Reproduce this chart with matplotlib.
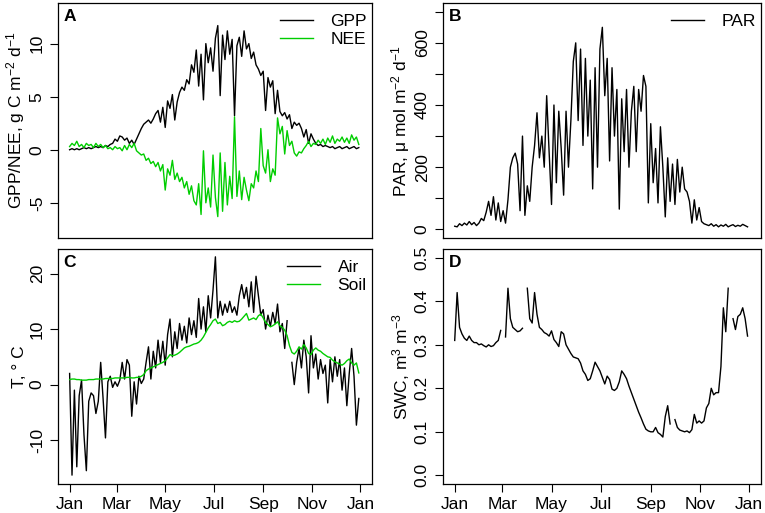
import numpy as np
import matplotlib
matplotlib.use("Agg")
import matplotlib.pyplot as plt

plt.rcParams['font.family'] = ['Liberation Sans', 'DejaVu Sans']
plt.rcParams['mathtext.fontset'] = 'custom'
plt.rcParams['mathtext.rm'] = 'Liberation Sans'
plt.rcParams['mathtext.it'] = 'Liberation Sans:italic'
plt.rcParams['axes.unicode_minus'] = False

# day of year, every 3rd day
days = np.arange(1, 366, 3)

gpp = [0.0, 0.1, 0.0, 0.1, 0.0, 0.1, 0.2, 0.1, 0.2, 0.1,
       0.2, 0.3, 0.2, 0.3, 0.2, 0.4, 0.3, 0.5, 0.6, 1.0,
       0.8, 1.3, 1.2, 0.9, 1.1, 0.6, 0.9, 0.5, 1.0, 1.5,
       2.0, 2.4, 2.6, 2.8, 2.5, 2.9, 3.4, 3.7, 2.6, 4.0,
       2.1, 4.6, 3.9, 5.2, 2.8, 4.5, 5.4, 5.9, 5.6, 6.6,
       6.2, 8.0, 7.3, 9.4, 6.0, 9.0, 4.7, 10.0, 8.2, 9.6,
       7.4, 10.5, 11.7, 5.1, 10.8, 8.5, 11.2, 9.0, 10.4, 3.2,
       9.8, 10.6, 8.8, 11.2, 9.5, 10.0, 8.6, 9.2, 8.0, 7.6,
       7.0, 7.4, 3.7, 6.8, 5.9, 6.5, 3.4, 5.6, 3.6, 3.2,
       3.5, 2.9, 3.3, 2.0, 2.6, 2.3, 2.5, 2.0, 1.2, 1.9,
       0.6, 1.5, 1.0, 0.6, 0.4, 0.5, 0.3, 0.4, 0.3, 0.2,
       0.3, 0.1, 0.2, 0.3, 0.1, 0.2, 0.3, 0.1, 0.2, 0.3,
       0.1, 0.2]

nee = [0.3, 0.6, 0.4, 0.8, 0.3, 0.5, 0.2, 0.6, 0.4, 0.5,
       0.2, 0.6, 0.3, 0.5, 0.2, 0.4, 0.1, 0.2, 0.0, 0.3,
       0.1, 0.2, -0.1, 0.4, 0.0, 0.5, 0.2, 0.6, -0.1, -0.3,
       -0.5, -0.4, -1.0, -0.8, -1.3, -1.1, -1.6, -1.2, -2.0, -1.4,
       -3.8, -1.8, -2.4, -1.0, -2.8, -2.2, -3.0, -2.6, -3.6, -3.0,
       -4.2, -3.4, -4.8, -5.2, -3.2, -6.1, -0.1, -5.0, -3.6, -5.4,
       -0.5, -4.5, -6.3, -0.3, -5.8, -1.2, -5.2, -2.5, -4.6, 3.1,
       -4.4, -2.0, -4.7, -2.6, -3.8, -4.8, -3.2, -3.6, -2.0, -3.0,
       2.0, -1.5, -2.2, 0.0, -3.0, -1.8, -2.4, 3.0, 1.5, 2.2,
       -0.4, 1.8, 0.4, 0.8, -0.3, -0.6, -0.2, -0.3, 0.1, 0.4,
       0.8, 0.3, 0.6, 0.5, 0.9, 0.6, 1.0, 0.5, 1.1, 0.7,
       1.3, 0.6, 1.0, 0.8, 1.2, 0.7, 1.1, 0.6, 1.4, 0.9,
       1.2, 0.5]

par = [10, 8, 18, 12, 20, 14, 25, 15, 22, 12,
       20, 35, 28, 55, 90, 45, 105, 30, 85, 25,
       60, 20, 95, 200, 230, 245, 210, 60, 300, 45,
       140, 90, 200, 270, 375, 230, 300, 200, 430, 250,
       80, 400, 150, 380, 260, 110, 380, 200, 350, 540,
       600, 350, 580, 270, 550, 300, 480, 130, 520, 200,
       580, 650, 430, 550, 220, 520, 300, 450, 65, 420,
       250, 450, 200, 380, 460, 250, 450, 380, 495, 460,
       85, 340, 150, 260, 85, 330, 200, 40, 230, 90,
       210, 80, 225, 120, 200, 130, 120, 90, 20, 95,
       30, 70, 25, 18, 15, 12, 18, 10, 15, 8,
       14, 10, 16, 8, 12, 15, 9, 13, 10, 16,
       12, 8]

air = [2.0, -16.3, -1.0, -14.8, -2.0, 0.8, -9.0, -15.5, -3.0, -1.5,
       -2.0, -5.2, -3.0, 4.0, -2.5, -9.6, 0.5, 1.5, -0.5, 0.5,
       -0.3, 0.8, 4.0, 1.0, 4.5, 3.5, -5.7, 0.5, -3.5, 1.5,
       0.2, 1.0, 4.0, 6.8, 1.0, 6.0, 3.0, 8.0, 4.0, 7.8,
       3.5, 9.0, 11.8, 5.0, 9.5, 6.5, 11.0, 8.0, 10.5, 7.5,
       12.0, 9.0, 11.5, 8.5, 15.5, 10.0, 14.0, 9.5, 16.0, 12.0,
       17.0, 23.0, 12.0, 15.0, 12.5, 14.5, 13.0, 15.0, 13.0, 14.0,
       12.5, 16.0, 18.0, 15.5, 17.5, 14.0, 18.5, 13.0, 19.5, 16.0,
       12.5, 13.5, 10.0, 12.5, 10.5, 13.0, 11.0, 14.5, 9.5, 11.0,
       6.5, 11.5, np.nan, 4.0, 0.0, 4.0, 6.5, 3.0, 8.0, 5.0,
       -1.5, 8.8, 3.0, 5.5, 1.0, 4.5, 2.0, 3.5, -3.3, 4.5,
       0.5, 5.0, 1.5, 4.5, -1.0, 3.0, -3.8, 2.0, 6.5, 1.5,
       -7.3, -2.5]

soil = [0.9, 1.0, 1.0, 0.9, 0.9, 0.8, 0.8, 0.8, 0.9, 0.9,
        0.9, 1.0, 1.0, 1.0, 1.0, 1.1, 1.1, 1.1, 1.1, 1.2,
        1.2, 1.2, 1.2, 1.2, 1.3, 1.3, 1.2, 1.2, 1.3, 1.3,
        1.5, 1.8, 2.5, 2.8, 3.0, 3.2, 3.4, 3.6, 3.8, 4.0,
        4.3, 4.8, 5.4, 5.2, 5.3, 5.5, 5.8, 6.2, 6.6, 6.8,
        6.9, 7.1, 7.3, 7.4, 7.6, 8.0, 8.6, 9.4, 10.2, 10.8,
        11.5, 11.8, 11.0, 11.2, 10.6, 10.8, 11.2, 11.4, 11.2, 11.5,
        11.3, 11.4, 11.8, 12.3, 12.8, 11.6, 11.8, 12.0, 11.7, 12.4,
        12.7, 12.0, 11.2, 10.8, 10.4, 10.6, 10.9, 11.3, 10.6, 10.3,
        9.8, 8.8, 7.0, 5.8, 5.5, 6.0, 6.8, 6.4, 7.2, 6.6,
        5.6, 5.4, 6.2, 6.6, 6.2, 6.0, 5.6, 5.3, 5.0, 4.9,
        4.4, 4.1, 3.9, 3.7, 3.5, 3.8, 4.3, 4.6, 3.9, 3.5,
        3.9, 2.1]

swc = [0.31, 0.42, 0.34, 0.325, 0.315, 0.31, 0.32, 0.31, 0.305, 0.305,
       0.30, 0.302, 0.298, 0.295, 0.30, 0.296, 0.298, 0.305, 0.31, 0.333,
       np.nan, 0.318, 0.43, 0.36, 0.34, 0.335, 0.33, 0.332, 0.338, np.nan,
       0.43, 0.36, 0.35, 0.42, 0.37, 0.34, 0.335, 0.328, 0.325, 0.32,
       0.332, 0.312, 0.305, 0.296, 0.33, 0.325, 0.30, 0.29, 0.28, 0.272,
       0.27, 0.268, 0.258, 0.24, 0.232, 0.218, 0.222, 0.24, 0.26, 0.25,
       0.24, 0.225, 0.21, 0.228, 0.22, 0.198, 0.195, 0.20, 0.215, 0.24,
       0.232, 0.222, 0.205, 0.19, 0.175, 0.16, 0.145, 0.132, 0.118, 0.106,
       0.102, 0.10, 0.10, 0.11, 0.098, 0.094, 0.088, 0.135, 0.16, 0.118,
       np.nan, 0.128, 0.11, 0.104, 0.102, 0.10, 0.102, 0.098, 0.105, 0.14,
       0.12, 0.125, 0.12, 0.125, 0.155, 0.165, 0.20, 0.185, 0.19, 0.19,
       0.25, 0.385, 0.33, 0.43, np.nan, 0.36, 0.335, 0.365, 0.37, 0.385,
       0.36, 0.32]

month_days = [1, 60, 121, 182, 244, 305, 366]
month_labels = ['Jan', 'Mar', 'May', 'Jul', 'Sep', 'Nov', 'Jan']

GREEN = '#00CD00'
FS = 12.5

fig = plt.figure(figsize=(7.65, 5.13), dpi=100)
axA = fig.add_axes([0.0758, 0.536, 0.4105, 0.458])
axB = fig.add_axes([0.579, 0.536, 0.4157, 0.458])
axC = fig.add_axes([0.0758, 0.0565, 0.4105, 0.458])
axD = fig.add_axes([0.579, 0.0565, 0.4157, 0.458])


def style(ax, letter, show_x):
    pad = 0.04 * 365
    ax.set_xlim(1 - pad, 366 + pad)
    ax.set_xticks(month_days)
    ax.tick_params(axis='both', direction='out', length=6, width=0.8, labelsize=FS)
    if show_x:
        ax.set_xticklabels(month_labels, fontsize=FS)
    else:
        ax.set_xticklabels([])
        ax.tick_params(axis='x', length=0)
    for lab in ax.get_yticklabels():
        lab.set_rotation(90)
        lab.set_va('center')
    for s in ax.spines.values():
        s.set_linewidth(0.9)
    ax.text(0.018, 0.975, letter, transform=ax.transAxes, fontsize=FS,
            fontweight='bold', va='top', ha='left')


def add_legend(ax):
    ax.legend(loc='upper right', bbox_to_anchor=(1.0, 0.975), frameon=False,
              fontsize=FS, handlelength=1.9, borderpad=0.1, borderaxespad=0.2,
              labelspacing=0.15, handletextpad=1.0)


# A: GPP / NEE
axA.plot(days, gpp, color='black', lw=1.0, label='GPP')
axA.plot(days, nee, color=GREEN, lw=1.0, label='NEE')
axA.set_ylim(-8.32, 13.82)
axA.set_yticks([-5, 0, 5, 10])
axA.set_ylabel(r'GPP/NEE, g C m$^{-2}$ d$^{-1}$', fontsize=FS, labelpad=2)
add_legend(axA)
style(axA, 'A', False)

# B: PAR
axB.plot(days, par, color='black', lw=1.0, label='PAR')
axB.set_ylim(-28, 728)
axB.set_yticks(range(0, 701, 100))
axB.set_yticklabels(['0', '', '200', '', '400', '', '600', ''])
axB.set_ylabel('PAR, \u03bc mol m$^{-2}$ d$^{-1}$', fontsize=FS, labelpad=2)
add_legend(axB)
style(axB, 'B', False)

# C: temperature
axC.plot(days, air, color='black', lw=1.0, label='Air')
axC.plot(days, soil, color=GREEN, lw=1.0, label='Soil')
axC.set_ylim(-17.9, 24.4)
axC.set_yticks([-10, 0, 10, 20])
axC.set_ylabel('T, \u00b0 C', fontsize=FS, labelpad=2)
add_legend(axC)
style(axC, 'C', True)

# D: soil water
axD.plot(days, swc, color='black', lw=1.0)
axD.set_ylim(-0.02, 0.52)
axD.set_yticks([0.0, 0.1, 0.2, 0.3, 0.4, 0.5])
axD.set_yticklabels(['0.0', '0.1', '0.2', '0.3', '0.4', '0.5'])
axD.set_ylabel(r'SWC, m$^{3}$ m$^{-3}$', fontsize=FS, labelpad=2)
style(axD, 'D', True)

fig.savefig('out.png', dpi=100)
